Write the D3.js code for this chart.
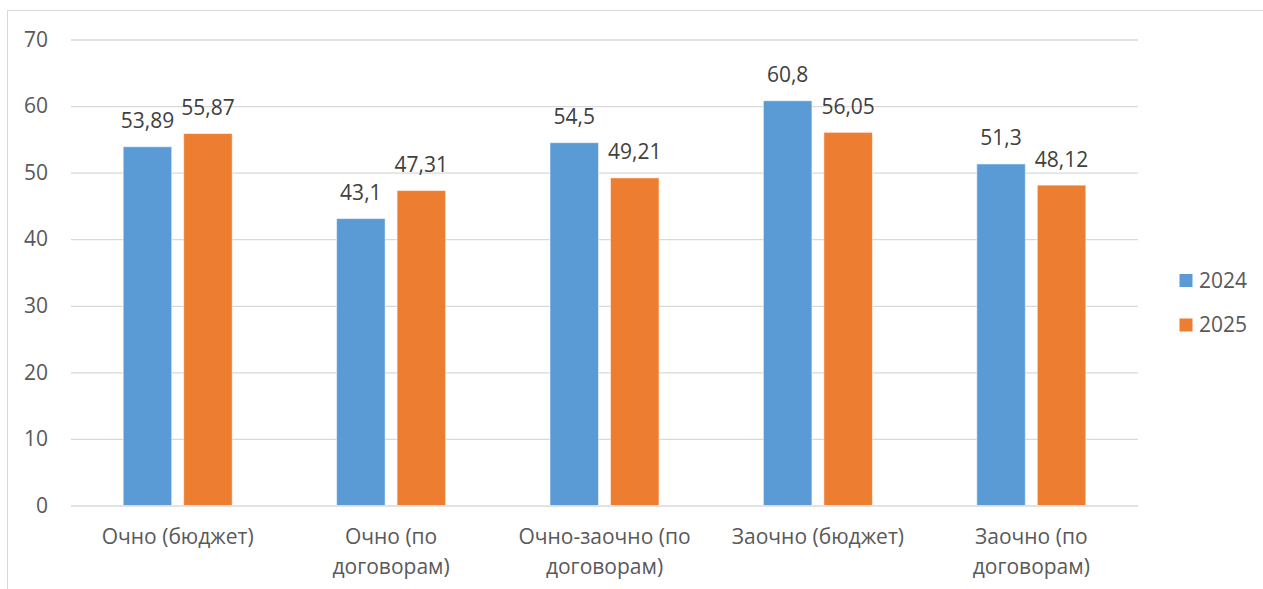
<!DOCTYPE html>
<html>
<head>
<meta charset="utf-8">
<script src="https://cdn.jsdelivr.net/npm/d3@7"></script>
<style>
  html, body { margin: 0; padding: 0; background: #fff; }
  svg { display: block; }
  text { font-family: "Open Sans", "Noto Sans", sans-serif; }
</style>
</head>
<body>
<svg id="chart" width="1263" height="589"></svg>
<script>
const categories = ["Очно (бюджет)", "Очно (по договорам)", "Очно-заочно (по договорам)", "Заочно (бюджет)", "Заочно (по договорам)"];
const categoryLines = [["Очно (бюджет)"], ["Очно (по", "договорам)"], ["Очно-заочно (по", "договорам)"], ["Заочно (бюджет)"], ["Заочно (по", "договорам)"]];
const seriesNames = ["2024", "2025"];
const values2024 = [53.89, 43.1, 54.5, 60.8, 51.3];
const values2025 = [55.87, 47.31, 49.21, 56.05, 48.12];
const valueLabels2024 = ["53,89", "43,1", "54,5", "60,8", "51,3"];
const valueLabels2025 = ["55,87", "47,31", "49,21", "56,05", "48,12"];
const yTicks = [0, 10, 20, 30, 40, 50, 60, 70];
const colors = ["#5B9BD5", "#ED7D31"];

const svg = d3.select("#chart");

// outer chart border
svg.append("rect")
  .attr("x", 7.5).attr("y", 10.5)
  .attr("width", 1263).attr("height", 600)
  .attr("fill", "none").attr("stroke", "#d9d9d9").attr("stroke-width", 1);

const plot = { left: 71, right: 1138, top: 39.5, bottom: 505.5 };
const fs = "21px";

const y = d3.scaleLinear().domain([0, 70]).range([plot.bottom, plot.top]);
const x0 = d3.scaleBand().domain(categories).range([plot.left, plot.right]).paddingInner(0).paddingOuter(0);
const groupW = 109;
const x1 = d3.scaleBand().domain(seriesNames).range([0, groupW]).paddingInner(0.198).paddingOuter(0);
const groupOffset = (x0.bandwidth() - groupW) / 2;

// gridlines
const yAxis = d3.axisLeft(y).tickValues(yTicks).tickSize(-(plot.right - plot.left)).tickPadding(23).tickFormat(d3.format("d"));
const gAxis = svg.append("g").attr("transform", `translate(${plot.left},0)`).call(yAxis);
gAxis.select(".domain").remove();
gAxis.selectAll(".tick line").attr("stroke", "#d9d9d9").attr("stroke-width", 1.3);
gAxis.selectAll(".tick text")
  .attr("fill", "#595959")
  .style("font-size", fs)
  .style("font-family", '"Open Sans", sans-serif');

const data = categories.map((c, i) => ({
  cat: c,
  vals: [
    { s: seriesNames[0], v: values2024[i], lab: valueLabels2024[i] },
    { s: seriesNames[1], v: values2025[i], lab: valueLabels2025[i] }
  ]
}));

const groups = svg.append("g").selectAll("g").data(data).join("g")
  .attr("transform", d => `translate(${x0(d.cat) + groupOffset},0)`);

groups.selectAll("rect").data(d => d.vals).join("rect")
  .attr("x", d => x1(d.s))
  .attr("y", d => y(d.v))
  .attr("width", x1.bandwidth())
  .attr("height", d => y(0) - y(d.v))
  .attr("fill", (d, i) => colors[i])
  .attr("stroke", "#ffffff").attr("stroke-opacity", 0.5).attr("stroke-width", 1);

groups.selectAll("text.val").data(d => d.vals).join("text")
  .attr("class", "val")
  .attr("x", d => x1(d.s) + x1.bandwidth() / 2)
  .attr("y", d => y(d.v) - 18.5)
  .attr("text-anchor", "middle")
  .attr("fill", "#404040")
  .style("font-size", fs)
  .text(d => d.lab);

// category labels
const catG = svg.append("g");
categories.forEach((c, i) => {
  const cx = x0(c) + x0.bandwidth() / 2;
  const t = catG.append("text")
    .attr("text-anchor", "middle")
    .attr("fill", "#595959")
    .style("font-size", fs);
  categoryLines[i].forEach((line, j) => {
    t.append("tspan").attr("x", cx).attr("y", 544 + j * 29.5).text(line);
  });
});

// legend
const legend = svg.append("g");
seriesNames.forEach((s, i) => {
  const ly = 274 + i * 44.5;
  legend.append("rect").attr("x", 1179.5).attr("y", ly).attr("width", 13).attr("height", 13).attr("fill", colors[i]);
  legend.append("text").attr("x", 1199).attr("y", ly + 13.5)
    .attr("fill", "#595959").style("font-size", fs).text(s);
});
</script>
</body>
</html>
